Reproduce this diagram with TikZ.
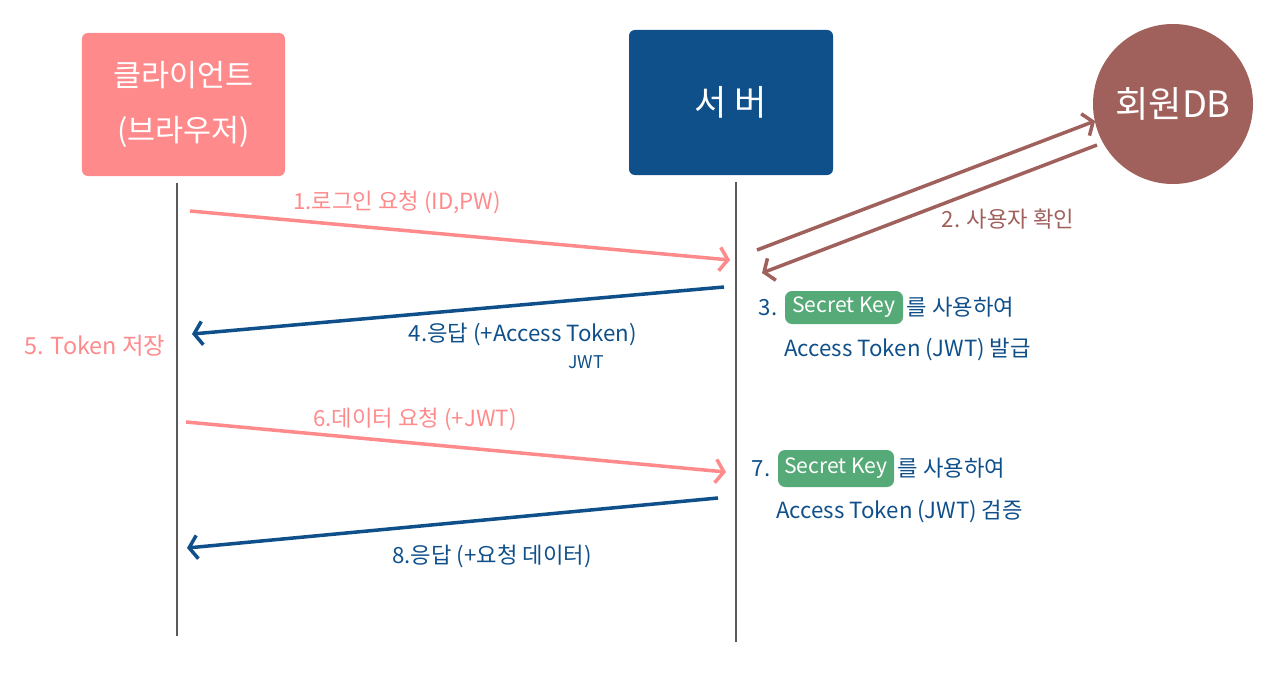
\documentclass[tikz,border=0pt]{standalone}
\usepackage{fontspec}
\setmainfont{Noto Sans CJK KR}
\usetikzlibrary{arrows.meta,positioning}
\definecolor{clientpink}{HTML}{FF8A8C}
\definecolor{serverblue}{HTML}{10508A}
\definecolor{dbbrown}{HTML}{A0615C}
\definecolor{keygreen}{HTML}{55AA77}
\definecolor{linegray}{HTML}{5A5A5A}
\begin{document}
\begin{tikzpicture}[x=0.03cm,y=-0.03cm,
    actor/.style={rounded corners=5pt,text=white,align=center,font=\fontsize{26pt}{47pt}\selectfont},
    msg/.style={line width=3pt,-{Straight Barb[length=7pt,width=20pt]}},
    lbl/.style={font=\fontsize{19pt}{22pt}\selectfont,inner sep=1pt},
    keybox/.style={fill=keygreen,rounded corners=6pt,text=white,inner sep=2pt,font=\fontsize{18pt}{22pt}\selectfont}]
    \useasboundingbox (0,0) rectangle (1280,675);
    % participants
    \node[actor,fill=clientpink,minimum width=6.09cm,minimum height=4.29cm] (client) at (183.5,104.5) {클라이언트\\(브라우저)};
    \node[actor,fill=serverblue,minimum width=6.12cm,minimum height=4.35cm,font=\fontsize{30pt}{36pt}\selectfont] (server) at (731,102.5) {서 버};
    \node[actor,circle,fill=dbbrown,minimum size=4.8cm,inner sep=0pt,font=\fontsize{31pt}{36pt}\selectfont] (db) at (1173,104) {회원DB};
    % lifelines
    \coordinate (ctop) at (177,183);
    \coordinate (cbot) at (177,636);
    \coordinate (stop) at (736,182);
    \coordinate (sbot) at (736,642);
    \draw[linegray,line width=2.2pt] (ctop) -- (cbot);
    \draw[linegray,line width=2.2pt] (stop) -- (sbot);
    % messages
    \coordinate (m1a) at (190,211);  \coordinate (m1b) at (730,260);
    \coordinate (m2a) at (757,250);  \coordinate (m2b) at (1095,121);
    \coordinate (m2c) at (1097,145); \coordinate (m2d) at (762,273);
    \coordinate (m4a) at (724,287);  \coordinate (m4b) at (192,334);
    \coordinate (m6a) at (186,422);  \coordinate (m6b) at (726,472);
    \coordinate (m8a) at (718,498);  \coordinate (m8b) at (187,548);
    \draw[msg,clientpink] (m1a) -- (m1b);
    \draw[msg,dbbrown] (m2a) -- (m2b);
    \draw[msg,dbbrown] (m2c) -- (m2d);
    \draw[msg,serverblue] (m4a) -- (m4b);
    \draw[msg,clientpink] (m6a) -- (m6b);
    \draw[msg,serverblue] (m8a) -- (m8b);
    % labels
    \node[lbl,text=clientpink] (l1) at (397,202) {1.로그인 요청 (ID,PW)};
    \node[lbl,text=dbbrown] (l2) at (1008,219) {2. 사용자 확인};
    \node[lbl,text=serverblue] (l4) at (523,334) {4.응답 (+Access Token)};
    \node[lbl,text=serverblue,font=\fontsize{15pt}{18pt}\selectfont] (jwt) at (586,362) {JWT};
    \node[lbl,text=clientpink,font=\fontsize{20pt}{24pt}\selectfont] (l5) at (95,346) {5. Token 저장};
    \node[lbl,text=clientpink] (l6) at (415,419) {6.데이터 요청 (+JWT)};
    \node[lbl,text=serverblue] (l8) at (492,556) {8.응답 (+요청 데이터)};
    % step 3
    \node[keybox,minimum width=3.54cm,minimum height=0.99cm] (key3) at (844,307.5) {Secret Key};
    \node[lbl,text=serverblue,left=5pt of key3] (n3) {3.};
    \node[lbl,text=serverblue,right=2pt of key3] (use3) {를 사용하여};
    \node[lbl,text=serverblue,anchor=west] (issue) at (783,349) {Access Token (JWT) 발급};
    % step 7
    \node[keybox,minimum width=3.48cm,minimum height=1.11cm] (key7) at (836,468.5) {Secret Key};
    \node[lbl,text=serverblue,left=5pt of key7] (n7) {7.};
    \node[lbl,text=serverblue,right=2pt of key7] (use7) {를 사용하여};
    \node[lbl,text=serverblue,anchor=west] (verify) at (775,511) {Access Token (JWT) 검증};
\end{tikzpicture}
\end{document}
